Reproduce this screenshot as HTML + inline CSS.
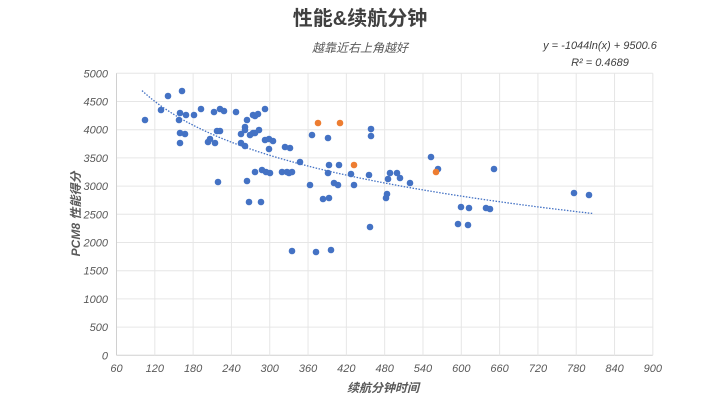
<!DOCTYPE html>
<html><head><meta charset="utf-8"><style>
html,body{margin:0;padding:0;background:#fff;}
svg{display:block;font-family:"Liberation Sans Narrow","Liberation Sans","Noto Sans CJK SC",sans-serif;}
.t{font-size:11px;fill:#595959;font-style:italic;}
</style></head><body>
<svg id="c" width="720" height="405" viewBox="0 0 720 405" xmlns="http://www.w3.org/2000/svg">
<rect width="720" height="405" fill="#fff"/>
<text x="360" y="25" text-anchor="middle" font-size="20" font-weight="bold" fill="#404040">性能&amp;续航分钟</text>
<text x="360" y="52" text-anchor="middle" font-size="12" font-style="italic" fill="#595959">越靠近右上角越好</text>
<text x="600" y="49" text-anchor="middle" font-size="11" font-style="italic" fill="#404040">y = -1044ln(x) + 9500.6</text>
<text x="600" y="66" text-anchor="middle" font-size="11" font-style="italic" fill="#404040">R² = 0.4689</text>
<g id="grid"></g>
<text transform="translate(80,214) rotate(-90)" text-anchor="middle" font-size="12" font-weight="bold" font-style="italic" fill="#595959">PCM8 性能得分</text>
<text x="383" y="392" text-anchor="middle" font-size="12" font-weight="bold" font-style="italic" fill="#595959">续航分钟时间</text>
<g id="pts"></g>
</svg>
<script>
var NS="http://www.w3.org/2000/svg";
function el(t,a,p){var e=document.createElementNS(NS,t);for(var k in a)e.setAttribute(k,a[k]);p.appendChild(e);return e;}
var g=document.getElementById('grid'),P=document.getElementById('pts');
function X(v){return 116.5+(v-60)*0.6385;}
function Y(v){return 355.3-v*0.0564;}
for(var v=0;v<=5000;v+=500){el('line',{x1:116.5,x2:X(900),y1:Y(v),y2:Y(v),stroke:v?'#e6e6e6':'#d0d0d0','stroke-width':1},g);
 var t=el('text',{x:108,y:Y(v)+4,'text-anchor':'end','class':'t'},g);t.textContent=v;}
for(var v=60;v<=900;v+=60){el('line',{x1:X(v),x2:X(v),y1:Y(0),y2:Y(5000),stroke:v==60?'#d0d0d0':'#e6e6e6','stroke-width':1},g);
 var t=el('text',{x:X(v),y:372,'text-anchor':'middle','class':'t'},g);t.textContent=v;}
var d='';for(var x=100;x<=805;x+=5){var y=9500.6-1044*Math.log(x);d+=(d?'L':'M')+X(x).toFixed(1)+' '+Y(y).toFixed(1);}
el('path',{d:d,fill:'none',stroke:'#4472C4','stroke-width':1.3,'stroke-dasharray':'1.5 1.5'},P);
var B=[[145,120],[161,110],[168,96],[182,91],[180,113],[179,120],[186,115],[194,115],[201,109],[180,133],[185,134],[180,143],[214,112],[220,109],[224,111],[236,112],[217,131],[220,131],[208,142],[210,139],[215,143],[247,120],[253,115],[255,116],[258,114],[265,109],[245,127],[245,130],[241,134],[250,135],[253,133],[255,133],[259,130],[241,143],[245,146],[265,140],[269,139],[273,141],[269,149],[285,147],[290,148],[300,162],[312,135],[328,138],[329,165],[339,165],[328,173],[351,174],[310,185],[334,183],[338,185],[354,185],[323,199],[329,198],[218,182],[247,181],[255,172],[262,170],[266,172],[270,173],[282,172],[287,172],[289,173],[292,172],[249,202],[261,202],[292,251],[316,252],[331,250],[371,129],[371,136],[369,175],[390,173],[397,173],[388,179],[400,178],[410,183],[387,194],[386,198],[370,227],[431,157],[438,169],[494,169],[461,207],[469,208],[486,208],[490,209],[458,224],[468,225],[574,193],[589,195]];
var O=[[318,123],[340,123],[354,165],[436,172]];
B.forEach(function(p){el('circle',{cx:p[0],cy:p[1],r:3.3,fill:'#4472C4'},P);});
O.forEach(function(p){el('circle',{cx:p[0],cy:p[1],r:3.3,fill:'#ED7D31'},P);});
</script>
</body></html>
